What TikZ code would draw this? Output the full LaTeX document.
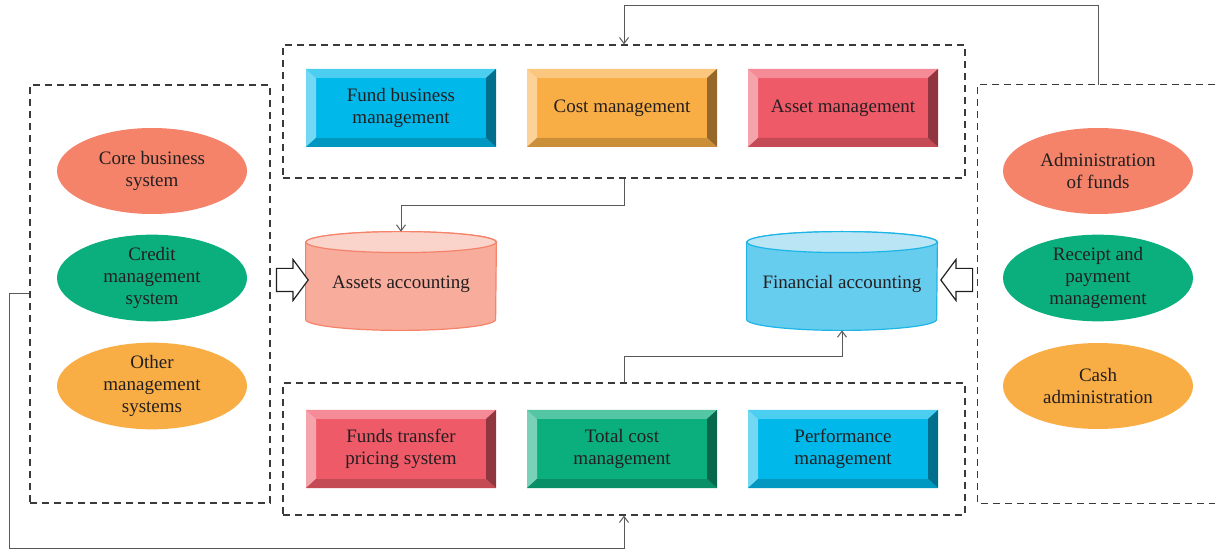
\documentclass[tikz,border=0pt]{standalone}
\usepackage{fontspec}
\setmainfont{Liberation Serif}
\usetikzlibrary{arrows.meta,shapes.geometric,shapes.arrows,backgrounds}

\definecolor{txt}{HTML}{231F20}
\definecolor{salmon}{HTML}{F4836A}
\definecolor{leaf}{HTML}{0BAE7D}
\definecolor{amber}{HTML}{F9AE45}
\definecolor{sky}{HTML}{00B9EA}
\definecolor{rose}{HTML}{EF5A69}
\definecolor{linkgray}{HTML}{58595B}
\definecolor{dashgray}{HTML}{3A3A3A}
\definecolor{peach}{HTML}{F7AC9C}
\definecolor{peachtop}{HTML}{FAD3CB}
\definecolor{aqua}{HTML}{66CDEF}
\definecolor{aquatop}{HTML}{B9E5F5}
\definecolor{aquaedge}{HTML}{1CB5E6}

\tikzset{
  every node/.style={font=\fontsize{9.5}{11}\selectfont, text=txt, align=center, inner sep=0pt},
  oval/.style={ellipse, fill=#1, minimum width=95pt, minimum height=43pt},
  bevelbox/.style={rectangle, fill=#1, minimum width=95pt, minimum height=39pt,
    path picture={
      \path (path picture bounding box.north west) coordinate (bnw)
            (path picture bounding box.north east) coordinate (bne)
            (path picture bounding box.south west) coordinate (bsw)
            (path picture bounding box.south east) coordinate (bse);
      \fill[#1!70!white] (bnw) -- (bne) -- ([xshift=-5pt,yshift=-4.5pt]bne) -- ([xshift=5pt,yshift=-4.5pt]bnw) -- cycle;
      \fill[#1!55!white] (bnw) -- ([xshift=5pt,yshift=-4.5pt]bnw) -- ([xshift=5pt,yshift=4.5pt]bsw) -- (bsw) -- cycle;
      \fill[#1!60!black] (bne) -- ([xshift=-5pt,yshift=-4.5pt]bne) -- ([xshift=-5pt,yshift=4.5pt]bse) -- (bse) -- cycle;
      \fill[#1!82!black] (bsw) -- ([xshift=5pt,yshift=4.5pt]bsw) -- ([xshift=-5pt,yshift=4.5pt]bse) -- (bse) -- cycle;
    }},
  dashline/.style={draw=dashgray, line width=0.65pt, dash pattern=on 3.5pt off 2.5pt},
  group/.style={rectangle, dashline},
  link/.style={draw=linkgray, line width=0.5pt, -{Straight Barb[length=3pt,width=4.5pt]}},
  hollow/.style={single arrow, draw=txt, fill=white, line width=0.6pt, inner sep=5.5pt,
    minimum height=15pt, single arrow head extend=4.5pt, single arrow tip angle=107},
  drum/.style={rectangle, minimum width=95pt, minimum height=49pt, text height=9.5pt, text depth=2pt}
}

\begin{document}
\begin{tikzpicture}[x=0.5pt,y=-0.5pt]
	\useasboundingbox (0,0) rectangle (1215,550);

	\node[group, minimum width=341pt, minimum height=66.5pt] (topgrp) at (624,111.5) {};
	\node[group, minimum width=341pt, minimum height=66pt] (botgrp) at (624,449) {};
	\node[group, minimum width=120pt, minimum height=209pt] (leftgrp) at (150,294) {};
	\node[rectangle, minimum width=118.5pt, minimum height=209pt] (rightgrp) at (1096.5,294) {};
	\path[dashline] (rightgrp.north east) -- (rightgrp.north west) -- (rightgrp.south west) -- (rightgrp.south east);

	\node[bevelbox=sky] (fundbiz) at (401,108) {Fund business\\management};
	\node[bevelbox=amber] (costmgt) at (622,108) {Cost management};
	\node[bevelbox=rose] (assetmgt) at (843,108) {Asset management};
	\node[bevelbox=rose] (ftp) at (401,449) {Funds transfer\\pricing system};
	\node[bevelbox=leaf] (totalcost) at (622,449) {Total cost\\management};
	\node[bevelbox=sky] (perf) at (843,449) {Performance\\management};

	\node[oval=salmon] (corebiz) at (152,171) {Core business\\system};
	\node[oval=leaf] (credit) at (152,278) {Credit\\management\\system};
	\node[oval=amber] (othermgt) at (152,386) {Other\\management\\systems};
	\node[oval=salmon] (fundadm) at (1098,171) {Administration\\of funds};
	\node[oval=leaf] (receipt) at (1098,278) {Receipt and\\payment\\management};
	\node[oval=amber] (cashadm) at (1098,386) {Cash\\administration};

	\node[drum] (assets) at (401,281) {Assets accounting};
	\node[drum] (financial) at (842,281) {Financial accounting};
	\begin{scope}[on background layer]
	\filldraw[fill=peach, draw=salmon, line width=0.6pt] ([yshift=-5.25pt]assets.north west) -- ([yshift=5.5pt]assets.south west) arc (180:360:47.5pt and 5.5pt) -- ([yshift=-5.25pt]assets.north east) arc (0:180:47.5pt and 5.25pt) -- cycle;
	\filldraw[fill=peachtop, draw=salmon, line width=0.6pt] ([yshift=-5.25pt]assets.north) ellipse (47.5pt and 5.25pt);
	\filldraw[fill=aqua, draw=aquaedge, line width=0.6pt] ([yshift=-5.25pt]financial.north west) -- ([yshift=5.5pt]financial.south west) arc (180:360:47.5pt and 5.5pt) -- ([yshift=-5.25pt]financial.north east) arc (0:180:47.5pt and 5.25pt) -- cycle;
	\filldraw[fill=aquatop, draw=aquaedge, line width=0.6pt] ([yshift=-5.25pt]financial.north) ellipse (47.5pt and 5.25pt);
	\end{scope}

	\node[hollow] (inleft) at (288,280) {};
	\node[hollow, shape border rotate=180] (inright) at (961,280) {};

	\coordinate (topbend) at (624,6);
	\coordinate (lowbend) at (9,548);
	\draw[link] (rightgrp.north -| fundadm) |- (topbend) -- (topgrp.north);
	\draw[link] (leftgrp.west) -| (lowbend) -| (botgrp.south);
	\draw[link] (topgrp.south) -- ++(0,27) -| (assets.north);
	\draw[link] (botgrp.north) -- ++(0,-26) -| (financial.south);
\end{tikzpicture}
\end{document}
